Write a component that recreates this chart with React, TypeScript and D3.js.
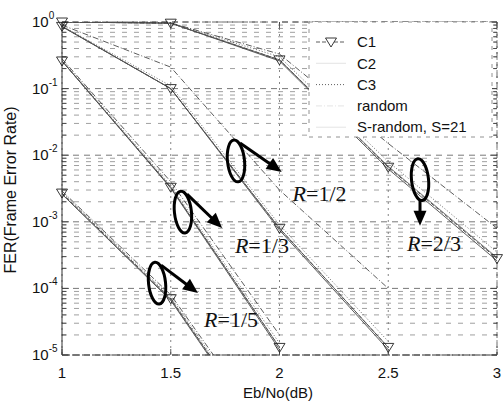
import React from 'react';
import * as d3 from 'd3';

const ebno = [1, 1.5, 2, 2.5, 3];
const seriesNames = ['C1', 'C2', 'C3', 'random', 'S-random, S=21'];

// FER for C1, C2, C3, random, S-random at each Eb/No point, per code rate
const ferR15 = [
  [2.7e-3, 7.0e-5, 3.0e-7],
  [2.6e-3, 6.6e-5, 2.8e-7],
  [2.8e-3, 7.4e-5, 3.4e-7],
  [2.9e-3, 8.0e-5, 4.0e-7],
  [2.6e-3, 6.8e-5, 3.0e-7],
];
const ferR13 = [
  [0.26, 3.3e-3, 1.3e-5],
  [0.26, 3.2e-3, 1.2e-5],
  [0.27, 3.5e-3, 1.5e-5],
  [0.28, 4.0e-3, 2.0e-5],
  [0.26, 3.3e-3, 1.3e-5],
];
const ferR12 = [
  [0.86, 0.1, 8.0e-4, 1.3e-5],
  [0.85, 0.1, 7.5e-4, 1.2e-5],
  [0.87, 0.11, 9.0e-4, 1.6e-5],
  [0.9, 0.21, 3.0e-3, 1.0e-4],
  [0.86, 0.1, 8.0e-4, 1.3e-5],
];
const ferR23 = [
  [1.0, 0.96, 0.27, 6.6e-3, 2.8e-4],
  [1.0, 0.96, 0.26, 6.2e-3, 2.6e-4],
  [1.0, 0.97, 0.3, 8.0e-3, 3.5e-4],
  [1.0, 0.97, 0.33, 1.5e-2, 8.0e-4],
  [1.0, 0.96, 0.27, 6.8e-3, 2.9e-4],
];
const rateGroups = [ferR15, ferR13, ferR12, ferR23];

const xTicks = [1, 1.5, 2, 2.5, 3];
const xTickLabels = ['1', '1.5', '2', '2.5', '3'];
const yTickExps = [0, -1, -2, -3, -4, -5];

// ellipse + arrow callouts, in data units
const callouts = [
  { rate: '1/5', ex: 1.437, ey: 1.2e-4, tx: 1.625, ty: 8.5e-5, lx: 1.653, ly: 3.4e-5, down: false },
  { rate: '1/3', ex: 1.556, ey: 1.4e-3, tx: 1.736, ty: 8.1e-4, lx: 1.795, ly: 4.5e-4, down: false },
  { rate: '1/2', ex: 1.8, ey: 8.2e-3, tx: 2.01, ty: 5.6e-3, lx: 2.06, ly: 2.7e-3, down: false },
  { rate: '2/3', ex: 2.646, ey: 4.3e-3, tx: 2.646, ty: 8.7e-4, lx: 2.586, ly: 4.8e-4, down: true },
];

const dashes = ['4,2', null, '1,2', '6,2,1,2', null];
const strokes = ['#222', '#333', '#444', '#333', '#555'];
const sans = '"Liberation Sans", Arial, sans-serif';
const serif = '"Liberation Serif", "Times New Roman", serif';

const W = 503;
const H = 406;

export default function App() {
  const x = d3.scaleLinear().domain([1, 3]).range([62, 497]);
  const y = d3.scaleLog().domain([1e-5, 1]).range([355, 22]);
  const [x0, x1] = x.range();
  const [y0, y1] = y.range();

  const line = d3
    .line<number>()
    .x((_, i) => x(ebno[i]))
    .y((d) => y(d));

  const minor: number[] = [];
  for (let e = -5; e < 0; e++) for (let k = 2; k <= 9; k++) minor.push(k * Math.pow(10, e));

  const tri = (cx: number, cy: number) =>
    `M${cx - 5.5},${cy - 4} L${cx + 5.5},${cy - 4} L${cx},${cy + 5} Z`;

  const arrowHead = (fx: number, fy: number, tx: number, ty: number) => {
    const a = Math.atan2(ty - fy, tx - fx);
    const L = 15, w = 6.5;
    const bx = tx - L * Math.cos(a), by = ty - L * Math.sin(a);
    const px = -Math.sin(a) * w, py = Math.cos(a) * w;
    return `M${tx},${ty} L${bx + px},${by + py} L${bx - px},${by - py} Z`;
  };

  return (
    <div style={{ position: 'absolute', left: 0, top: 0 }}>
      <svg width={W} height={H} style={{ display: 'block', background: '#fff' }}>
        <defs>
          <clipPath id="plot">
            <rect x={x0} y={y1} width={x1 - x0} height={y0 - y1} />
          </clipPath>
        </defs>

        {/* grid */}
        <g fill="none">
          {minor.map((v, i) => (
            <line key={'m' + i} x1={x0} x2={x1} y1={y(v)} y2={y(v)} stroke="#777" strokeWidth={0.7} strokeDasharray="5,7" />
          ))}
          {yTickExps.map((e) => (
            <line key={'M' + e} x1={x0} x2={x1} y1={y(Math.pow(10, e))} y2={y(Math.pow(10, e))} stroke="#555" strokeWidth={0.8} strokeDasharray="6,5" />
          ))}
          {xTicks.map((v) => (
            <line key={'v' + v} x1={x(v)} x2={x(v)} y1={y1} y2={y0} stroke="#666" strokeWidth={0.8} strokeDasharray="2,4" />
          ))}
          {minor.map((v, i) => (
            <g key={'t' + i} stroke="#333" strokeWidth={0.8}>
              <line x1={x0} x2={x0 + 4} y1={y(v)} y2={y(v)} />
              <line x1={x1 - 4} x2={x1} y1={y(v)} y2={y(v)} />
            </g>
          ))}
          {yTickExps.map((e) => (
            <g key={'T' + e} stroke="#333" strokeWidth={0.8}>
              <line x1={x0} x2={x0 + 7} y1={y(Math.pow(10, e))} y2={y(Math.pow(10, e))} />
              <line x1={x1 - 7} x2={x1} y1={y(Math.pow(10, e))} y2={y(Math.pow(10, e))} />
            </g>
          ))}
          {xTicks.map((v) => (
            <g key={'X' + v} stroke="#333" strokeWidth={0.8}>
              <line x1={x(v)} x2={x(v)} y1={y0} y2={y0 - 6} />
              <line x1={x(v)} x2={x(v)} y1={y1} y2={y1 + 6} />
            </g>
          ))}
          <line x1={x0} x2={x0} y1={y1} y2={y0} stroke="#333" strokeWidth={1} />
          <line x1={x0} x2={x1} y1={y0} y2={y0} stroke="#333" strokeWidth={1} strokeDasharray="8,2" />
          <line x1={x0} x2={x1} y1={y1} y2={y1} stroke="#444" strokeWidth={0.8} strokeDasharray="6,4" />
          <line x1={x1} x2={x1} y1={y1} y2={y0} stroke="#444" strokeWidth={0.8} strokeDasharray="6,4" />
        </g>

        {/* curves */}
        <g clipPath="url(#plot)" fill="none">
          {rateGroups.map((g, gi) =>
            g.map((vals, si) => (
              <path
                key={gi + '-' + si}
                d={line(vals) || ''}
                stroke={strokes[si]}
                strokeWidth={0.8}
                strokeDasharray={dashes[si] || undefined}
              />
            ))
          )}
        </g>
        <g fill="none" stroke="#222" strokeWidth={0.9}>
          {rateGroups.map((g, gi) =>
            g[0].map((v, i) =>
              v >= 1e-5 ? <path key={gi + 'k' + i} d={tri(x(ebno[i]), y(v))} /> : null
            )
          )}
        </g>

        {/* callouts */}
        {callouts.map((c) => {
          const cx = x(c.ex), cy = y(c.ey);
          const tx = x(c.tx), ty = y(c.ty);
          const rx = 8.5, ry = 21;
          let sx: number, sy: number;
          if (c.down) {
            sx = cx; sy = cy + ry;
          } else {
            sx = cx + 4; sy = cy - ry + 3;
          }
          const a = Math.atan2(ty - sy, tx - sx);
          const ex = tx - 10 * Math.cos(a), ey = ty - 10 * Math.sin(a);
          return (
            <g key={c.rate}>
              <ellipse cx={cx} cy={cy} rx={rx} ry={ry} fill="none" stroke="#000" strokeWidth={3} transform={`rotate(-6,${cx},${cy})`} />
              <line x1={sx} y1={sy} x2={ex} y2={ey} stroke="#000" strokeWidth={3} />
              <path d={arrowHead(sx, sy, tx, ty)} fill="#000" />
              <text x={x(c.lx)} y={y(c.ly)} dy="0.35em" fontFamily={serif} fontSize={22} fill="#111">
                <tspan fontStyle="italic">R</tspan>={c.rate}
              </text>
            </g>
          );
        })}

        {/* legend */}
        <g>
          <rect x={309} y={y1} width={183} height={115} fill="#fff" stroke="#777" strokeWidth={0.8} strokeDasharray="4,5" />
          {seriesNames.map((n, i) => {
            const ly = 42 + i * 21.3;
            return (
              <g key={n}>
                <line x1={316} x2={346} y1={ly} y2={ly} stroke={i === 0 || i === 2 ? '#333' : '#ddd'} strokeWidth={0.8} strokeDasharray={dashes[i] || undefined} />
                {i === 0 && <path d={tri(331, ly)} fill="#fff" stroke="#222" strokeWidth={0.9} />}
                <text x={357} y={ly} dy="0.35em" fontFamily={sans} fontSize={15} fill="#111">{n}</text>
              </g>
            );
          })}
        </g>

        {/* tick labels */}
        <g fontFamily={sans} fill="#111">
          {xTicks.map((v, i) => (
            <text key={'xl' + v} x={x(v)} y={378} textAnchor="middle" fontSize={15}>{xTickLabels[i]}</text>
          ))}
          {yTickExps.map((e) => (
            <text key={'yl' + e} x={32} y={y(Math.pow(10, e)) + 5} fontSize={15}>
              10<tspan dy={-8} fontSize={10}>{e}</tspan>
            </text>
          ))}
          <text x={278} y={398} textAnchor="middle" fontSize={15}>Eb/No(dB)</text>
          <text transform="translate(16,190) rotate(-90)" textAnchor="middle" fontSize={16}>FER(Frame Error Rate)</text>
        </g>
      </svg>
    </div>
  );
}
